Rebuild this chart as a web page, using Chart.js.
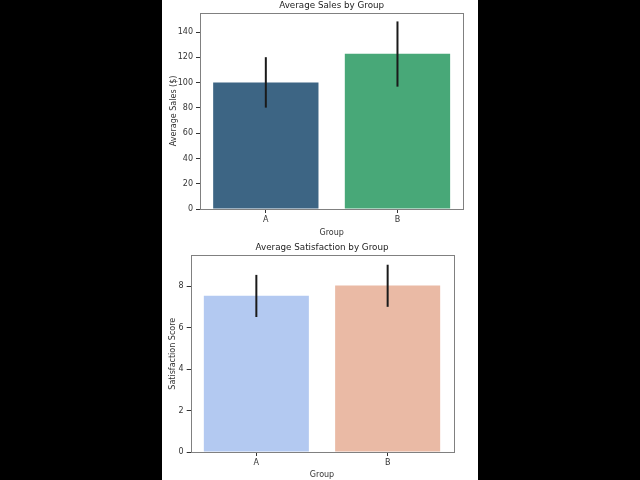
<!DOCTYPE html>
<html>
<head>
<meta charset="utf-8">
<script src="https://cdn.jsdelivr.net/npm/chart.js@4.4.0/dist/chart.umd.min.js"></script>
<style>
  html, body { margin: 0; padding: 0; background: #000; }
  body { width: 640px; height: 480px; position: relative; overflow: hidden; }
  #panel { position: absolute; left: 162px; top: 0; width: 316px; height: 480px; background: #fff; }
  .box { position: absolute; left: 162px; width: 316px; }
  #box-sales { top: 0; height: 238px; }
  #box-sat { top: 238px; height: 242px; }
</style>
</head>
<body>
<div id="panel"></div>
<div class="box" id="box-sales"><canvas id="chart-sales"></canvas></div>
<div class="box" id="box-sat"><canvas id="chart-sat"></canvas></div>
<script>
// data
const groups = ["A", "B"];
const salesMeans = [100, 122.8];
const salesLow = [80.2, 96.8];
const salesHigh = [120.1, 148.4];
const satMeans = [7.54, 8.03];
const satLow = [6.51, 7.0];
const satHigh = [8.54, 9.03];

const FONT = "'DejaVu Sans', sans-serif";
const FRAME = "#808080";

// matplotlib style frame on all four sides + error bars
const framePlugin = {
  id: "frame",
  afterDatasetsDraw(chart, args, opts) {
    const { ctx, chartArea: a, scales } = chart;
    ctx.save();
    ctx.strokeStyle = "#1a1a1a";
    ctx.lineWidth = 2;
    opts.low.forEach((lo, i) => {
      const x = scales.x.getPixelForValue(i);
      ctx.beginPath();
      ctx.moveTo(x, scales.y.getPixelForValue(lo));
      ctx.lineTo(x, scales.y.getPixelForValue(opts.high[i]));
      ctx.stroke();
    });
    ctx.strokeStyle = FRAME;
    ctx.lineWidth = 1;
    ctx.strokeRect(Math.round(a.left) + 0.5, Math.round(a.top) + 0.5,
      Math.round(a.right - a.left), Math.round(a.bottom - a.top));
    ctx.restore();
  },
};

function makeChart(id, cfg) {
  return new Chart(document.getElementById(id), {
    type: "bar",
    data: {
      labels: groups,
      datasets: [{
        data: cfg.values,
        backgroundColor: cfg.colors,
        borderWidth: 0,
        categoryPercentage: 0.8,
        barPercentage: 1.0,
      }],
    },
    options: {
      responsive: true,
      maintainAspectRatio: false,
      animation: false,
      layout: { padding: { left: 0, right: cfg.padRight, top: cfg.padTop, bottom: 0 } },
      plugins: {
        legend: { display: false },
        tooltip: { enabled: false },
        title: {
          display: true,
          fullSize: false,
          text: cfg.title,
          color: "#222",
          font: { family: FONT, size: 8.75, weight: "normal" },
          padding: { top: 0, bottom: cfg.titleGap },
        },
        frame: { low: cfg.low, high: cfg.high },
      },
      scales: {
        x: {
          grid: { display: true, offset: false, drawOnChartArea: false, tickLength: 4, tickColor: "#333" },
          border: { display: false },
          ticks: { color: "#333", font: { family: FONT, size: 8 }, padding: 2 },
          title: { display: true, text: "Group", color: "#333", font: { family: FONT, size: 8 }, padding: 0 },
          afterFit: (s) => { s.height = cfg.xHeight; },
        },
        y: {
          min: 0,
          max: cfg.yMax,
          grid: { display: true, drawOnChartArea: false, tickLength: 4, tickColor: "#333" },
          border: { display: false },
          ticks: { stepSize: cfg.step, color: "#333", font: { family: FONT, size: 8 }, padding: 3 },
          afterBuildTicks: (s) => { s.ticks = s.ticks.filter((t) => t.value % cfg.step === 0); },
          title: { display: true, text: cfg.yTitle, color: "#333", font: { family: FONT, size: 8 }, padding: { top: cfg.yTitlePad, bottom: 0 } },
          afterFit: (s) => { s.width = cfg.yWidth; },
        },
      },
    },
    plugins: [framePlugin],
  });
}

makeChart("chart-sales", {
  title: "Average Sales by Group",
  yTitle: "Average Sales ($)",
  values: salesMeans,
  low: salesLow,
  high: salesHigh,
  colors: ["#3d6584", "#48a878"],
  yMax: 155.3,
  step: 20,
  padRight: 14.7,
  padTop: 0,
  titleGap: 2.2,
  yWidth: 38,
  xHeight: 29,
  yTitlePad: 7,
});

makeChart("chart-sat", {
  title: "Average Satisfaction by Group",
  yTitle: "Satisfaction Score",
  values: satMeans,
  low: satLow,
  high: satHigh,
  colors: ["#b3c9f1", "#eabaa5"],
  yMax: 9.48,
  step: 2,
  padRight: 24.7,
  padTop: 4,
  titleGap: 2.9,
  yWidth: 28.7,
  xHeight: 28,
  yTitlePad: 6.5,
});
</script>
</body>
</html>
